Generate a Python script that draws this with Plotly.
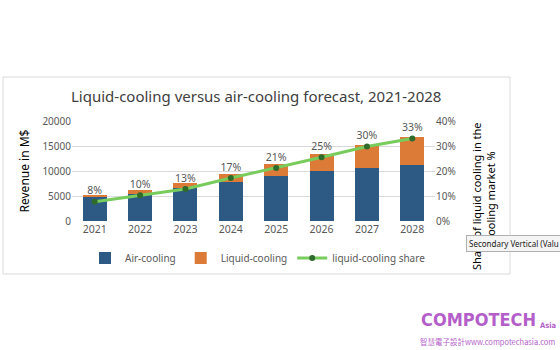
import plotly.graph_objects as go

years = ["2021", "2022", "2023", "2024", "2025", "2026", "2027", "2028"]
air_cooling = [4800, 5500, 6700, 7850, 9000, 10100, 10700, 11300]
liquid_cooling = [420, 610, 1000, 1620, 2400, 3400, 4600, 5600]
liquid_share = [0.077, 0.103, 0.128, 0.172, 0.212, 0.255, 0.298, 0.330]
share_labels = ["8%", "10%", "13%", "17%", "21%", "25%", "30%", "33%"]

W, H = 560, 350
L, R, T, B = 72, 125, 121, 129
PW, PH = W - L - R, H - T - B


def px_x(px):
    return (px - L) / PW


def px_y(py):
    return (H - B - py) / PH


FONT = "Noto Sans, Open Sans, Arial, sans-serif"
GRAY = "#595959"

fig = go.Figure()
fig.add_trace(go.Bar(x=years, y=air_cooling, name="Air-cooling",
                     marker=dict(color="#2c5a85", line=dict(width=0))))
fig.add_trace(go.Bar(x=years, y=liquid_cooling, name="Liquid-cooling",
                     marker=dict(color="#dc7a38", line=dict(width=0))))
fig.add_trace(go.Scatter(x=years, y=liquid_share, name="liquid-cooling share",
                         yaxis="y2", mode="lines+markers+text",
                         line=dict(color="#78cc5c", width=3),
                         marker=dict(color="#2f6b2a", size=6),
                         text=share_labels, textposition="top center",
                         textfont=dict(size=10.5, color=GRAY, family=FONT)))

fig.update_layout(
    width=W, height=H,
    margin=dict(l=L, r=R, t=T, b=B, pad=0),
    paper_bgcolor="white", plot_bgcolor="white",
    barmode="stack", bargap=0.47,
    font=dict(family=FONT, size=10.5, color=GRAY),
    showlegend=True,
    legend=dict(orientation="h", x=px_x(258), xanchor="center",
                y=px_y(258), yanchor="middle",
                font=dict(size=10, color=GRAY), bgcolor="rgba(0,0,0,0)",
                traceorder="normal", itemwidth=30),
    xaxis=dict(showgrid=False, showline=False, ticks="",
               tickfont=dict(size=10.5, color=GRAY)),
    yaxis=dict(range=[0, 20000], dtick=5000, showgrid=True,
               gridcolor="#d9d9d9", gridwidth=1, zeroline=False,
               showline=False, ticks="", tickformat="d",
               tickfont=dict(size=10, color=GRAY),
               title=dict(text="Revenue in M$", standoff=10,
                          font=dict(size=12, color="#000000", family=FONT))),
    yaxis2=dict(range=[0, 0.4], dtick=0.1, tickformat=".0%",
                overlaying="y", side="right", showgrid=False,
                zeroline=False, showline=False, ticks="",
                tickfont=dict(size=10, color=GRAY)),
)

# chart area box
fig.add_shape(type="rect", xref="paper", yref="paper",
              x0=px_x(3), x1=px_x(510), y0=px_y(274), y1=px_y(77),
              line=dict(color="#d9d9d9", width=1), fillcolor="white",
              layer="below")

# title
fig.add_annotation(xref="paper", yref="paper", x=px_x(256), y=px_y(96),
                   text="Liquid-cooling versus air-cooling forecast, 2021-2028",
                   showarrow=False, xanchor="center", yanchor="middle",
                   font=dict(size=15, color="#404040", family=FONT))

# secondary axis title
fig.add_annotation(xref="paper", yref="paper", x=px_x(483), y=px_y(196),
                   text="Share of liquid cooling in the<br>cooling market %",
                   textangle=-90, showarrow=False, align="center",
                   xanchor="center", yanchor="middle",
                   font=dict(size=11, color="#000000", family=FONT))

# tooltip (cut by the picture's right edge in the reference)
fig.add_annotation(xref="paper", yref="paper", x=px_x(466), y=px_y(243),
                   text="Secondary Vertical (Valu",
                   showarrow=False, xanchor="left", yanchor="middle",
                   bgcolor="#f4f4f4", bordercolor="#b0b0b0", borderwidth=1,
                   borderpad=2,
                   font=dict(size=8, color="#222222", family=FONT))

# logo
LOGO = "#b45fc9"
fig.add_annotation(xref="paper", yref="paper", x=px_x(419), y=px_y(319),
                   text="<b>COMPOTECH</b>", showarrow=False,
                   xanchor="left", yanchor="middle",
                   font=dict(size=18, color=LOGO,
                             family="DejaVu Sans Condensed, Roboto, sans-serif"))
fig.add_annotation(xref="paper", yref="paper", x=px_x(538), y=px_y(325),
                   text="<b>Asia</b>", showarrow=False,
                   xanchor="left", yanchor="middle",
                   font=dict(size=7.5, color=LOGO,
                             family="DejaVu Sans Condensed, Roboto, sans-serif"))
fig.add_annotation(xref="paper", yref="paper", x=px_x(418), y=px_y(341),
                   text="智慧電子設計www.compotechasia.com", showarrow=False,
                   xanchor="left", yanchor="middle",
                   font=dict(size=7.5, color=LOGO,
                             family="Noto Sans CJK TC, Roboto, sans-serif"))

fig.write_html("out.html")
